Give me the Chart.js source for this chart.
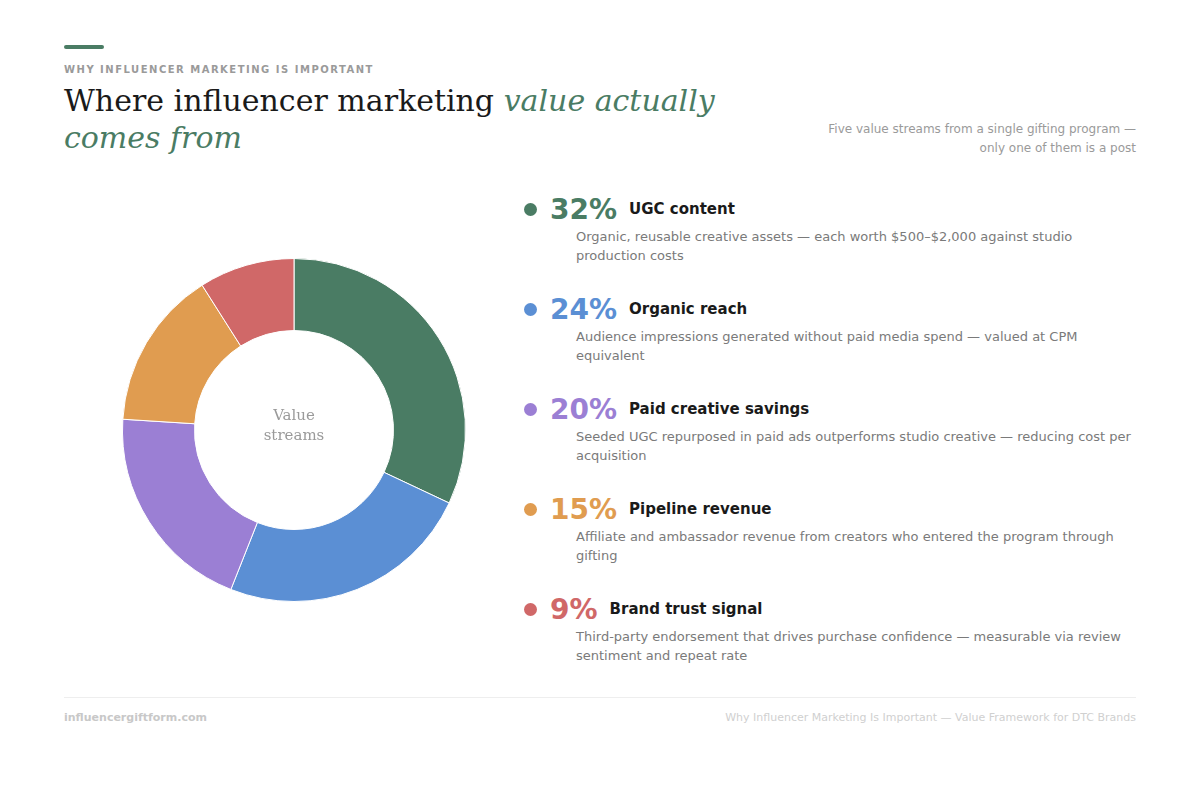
<!DOCTYPE html>
<html>
<head>
<meta charset="utf-8">
<script src="https://cdn.jsdelivr.net/npm/chart.js@4"></script>
<style>
  body { margin: 0; width: 1200px; height: 800px; background: #fff; font-family: "DejaVu Sans", sans-serif; position: relative; }
  .bar { position: absolute; left: 64px; top: 45px; width: 40px; height: 4px; background: #4a7c64; border-radius: 2px; }
  .kicker { position: absolute; left: 64px; top: 64px; font-size: 10px; font-weight: bold; letter-spacing: 1.5px; color: #9a9a9a; }
  h1 { position: absolute; left: 64px; top: 82px; margin: 0; font-family: "DejaVu Serif", serif; font-weight: normal; font-size: 30px; line-height: 37px; color: #1a1a1a; width: 700px; }
  h1 em { color: #4a7c64; }
  .sub { position: absolute; right: 64px; top: 120px; text-align: right; font-size: 12px; line-height: 19px; color: #9a9a9a; }
  .donut { position: absolute; left: 118px; top: 254px; width: 352px; height: 352px; }
  .center { position: absolute; left: 194px; top: 405px; width: 200px; text-align: center; font-family: "DejaVu Serif", serif; font-size: 15px; line-height: 20px; color: #9a9a9a; }
  .items { position: absolute; left: 524px; top: 192px; width: 620px; }
  .item { height: 100px; }
  .head { display: flex; align-items: center; height: 34px; }
  .dot { width: 13px; height: 13px; border-radius: 50%; margin-right: 13px; }
  .pct { font-size: 28px; font-weight: bold; margin-right: 12px; }
  .name { font-size: 15px; font-weight: bold; color: #1a1a1a; }
  .desc { margin-left: 52px; font-size: 13px; line-height: 19px; color: #7a7a7a; margin-top: 1px; }
  .rule { position: absolute; left: 64px; right: 64px; top: 697px; border-top: 1px solid #eee; }
  .foot-l { position: absolute; left: 64px; top: 711px; font-size: 11px; font-weight: bold; color: #c8c8c8; }
  .foot-r { position: absolute; right: 64px; top: 711px; font-size: 11px; color: #d0d0d0; }
</style>
</head>
<body>
<div class="bar"></div>
<div class="kicker">WHY INFLUENCER MARKETING IS IMPORTANT</div>
<h1>Where influencer marketing <em>value actually comes from</em></h1>
<div class="sub">Five value streams from a single gifting program —<br>only one of them is a post</div>
<div class="donut"><canvas id="c"></canvas></div>
<div class="center">Value<br>streams</div>
<div class="items" id="items"></div>
<div class="rule"></div>
<div class="foot-l">influencergiftform.com</div>
<div class="foot-r">Why Influencer Marketing Is Important — Value Framework for DTC Brands</div>
<script>
const streams = ['UGC content', 'Organic reach', 'Paid creative savings', 'Pipeline revenue', 'Brand trust signal'];
const shares = [32, 24, 20, 15, 9];
const colors = ['#4a7c64', '#5b8fd4', '#9b7fd4', '#e09c50', '#d06868'];
const notes = [
  'Organic, reusable creative assets — each worth $500–$2,000 against studio production costs',
  'Audience impressions generated without paid media spend — valued at CPM equivalent',
  'Seeded UGC repurposed in paid ads outperforms studio creative — reducing cost per acquisition',
  'Affiliate and ambassador revenue from creators who entered the program through gifting',
  'Third-party endorsement that drives purchase confidence — measurable via review sentiment and repeat rate',
];

document.getElementById('items').innerHTML = streams.map((s, i) => `
  <div class="item">
    <div class="head">
      <span class="dot" style="background:${colors[i]}"></span>
      <span class="pct" style="color:${colors[i]}">${shares[i]}%</span>
      <span class="name">${s}</span>
    </div>
    <div class="desc">${notes[i]}</div>
  </div>`).join('');

new Chart(document.getElementById('c'), {
  type: 'doughnut',
  data: {
    labels: streams,
    datasets: [{ data: shares, backgroundColor: colors, borderColor: '#fff', borderWidth: 1 }],
  },
  options: {
    responsive: true,
    maintainAspectRatio: true,
    animation: false,
    cutout: '58%',
    layout: { padding: 4 },
    plugins: { legend: { display: false }, tooltip: { enabled: false } },
  },
});
</script>
</body>
</html>
